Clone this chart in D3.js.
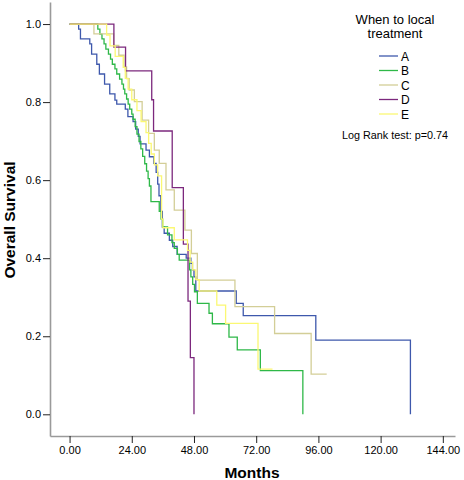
<!DOCTYPE html>
<html>
<head>
<meta charset="utf-8">
<script src="https://cdn.jsdelivr.net/npm/d3@7/dist/d3.min.js"></script>
<style>
  html, body { margin: 0; padding: 0; background: #fff; }
  svg { display: block; font-family: "Liberation Sans", Arial, sans-serif; }
</style>
</head>
<body>
<svg id="chart" width="464" height="480"></svg>
<script>
// ---- Data ----
const groups = ["A", "B", "C", "D", "E"];
const groupColors = ["#3E58AC", "#2EB848", "#D3CE97", "#7C287D", "#FBF873"];
const xTickValues = [0, 24, 48, 72, 96, 120, 144];
const yTickValues = [0, 0.2, 0.4, 0.6, 0.8, 1.0];
const legendTitle = ["When to local", "treatment"];
const testLabel = "Log Rank test: p=0.74";
const xTitle = "Months";
const yTitle = "Overall Survival";

// Kaplan-Meier step points: [month, survival]
const survA = [[0,1],[3.5,0.987],[4.2,0.962],[7.8,0.949],[8.5,0.923],[10.5,0.897],[11.5,0.872],
  [13.5,0.846],[15.5,0.821],[17.5,0.805],[18.2,0.795],[21.5,0.782],[22.5,0.763],[24.5,0.750],
  [25.5,0.731],[26.5,0.712],[27.2,0.693],[29.5,0.677],[30.8,0.660],[32.5,0.643],[33.4,0.620],
  [34.0,0.590],[34.5,0.560],[35.2,0.520],[35.8,0.480],[36.5,0.464],[38.5,0.446],[39.8,0.430],
  [41.5,0.410],[45.0,0.400],[46.8,0.387],[47.4,0.370],[48.0,0.352],[48.7,0.316],[64.3,0.284],
  [67.0,0.253],[95.0,0.190],[131.5,0]];
const survB = [[0,1],[10.9,0.987],[11.7,0.974],[12.5,0.962],[13.3,0.949],[14.0,0.936],[15.0,0.923],
  [15.8,0.910],[16.5,0.897],[17.5,0.885],[18.2,0.872],[19.3,0.859],[20.2,0.846],[20.8,0.833],
  [21.3,0.821],[22.0,0.808],[22.6,0.795],[23.2,0.782],[24.0,0.769],[24.5,0.756],[25.3,0.737],
  [26.0,0.718],[26.8,0.699],[27.5,0.680],[28.2,0.661],[29.0,0.642],[29.7,0.623],[30.3,0.604],
  [30.8,0.585],[31.4,0.545],[34.6,0.520],[35.3,0.500],[35.9,0.480],[37.8,0.460],[39.5,0.440],
  [40.4,0.425],[41.6,0.410],[42.3,0.395],[46.3,0.370],[46.8,0.352],[47.5,0.333],[48.2,0.314],
  [49.3,0.284],[53.8,0.259],[55.1,0.232],[61.5,0.198],[64.7,0.165],[73.6,0.112],[90.0,0]];
const survC = [[0,1],[9.4,0.975],[17.0,0.945],[19.0,0.920],[21.0,0.890],[22.0,0.860],[23.0,0.831],
  [25.0,0.801],[28.0,0.754],[30.5,0.720],[32.7,0.677],[34.6,0.643],[37.2,0.575],[40.4,0.523],
  [44.5,0.472],[47.0,0.412],[49.3,0.344],[63.8,0.276],[79.1,0.207],[93.2,0.103],[99.2,0.103]];
const survD = [[0,1],[17.1,0.941],[21.6,0.880],[31.7,0.806],[32.4,0.726],[39.6,0.581],[43.9,0.436],
  [45.7,0.290],[46.6,0.145],[48.0,0]];
const survE = [[0,1],[14.3,0.972],[15.6,0.944],[17.6,0.917],[20.7,0.889],[21.5,0.861],[22.6,0.833],
  [24.0,0.806],[26.0,0.778],[27.6,0.750],[29.5,0.722],[30.5,0.694],[31.5,0.667],[32.7,0.639],
  [34.0,0.611],[35.5,0.500],[36.0,0.478],[40.4,0.447],[45.5,0.420],[46.5,0.390],[47.5,0.370],
  [48.7,0.345],[50.0,0.316],[56.8,0.280],[60.2,0.233],[72.7,0.116],[78.3,0.116]];
const curves = [survA, survB, survC, survD, survE];

// ---- Chart ----
const svg = d3.select("#chart");
const x = d3.scaleLinear().domain([-7.55, 148.7]).range([50, 455]);
const y = d3.scaleLinear().domain([-0.0556, 1.0565]).range([436, 2]);

const xAxis = d3.axisBottom(x).tickValues(xTickValues).tickFormat(d3.format(".2f"))
  .tickSize(7).tickSizeOuter(0).tickPadding(3);
const yAxis = d3.axisLeft(y).tickValues(yTickValues).tickFormat(d3.format(".1f"))
  .tickSize(7).tickSizeOuter(0).tickPadding(2);

const gx = svg.append("g").attr("transform", "translate(0,436)").call(xAxis);
const gy = svg.append("g").attr("transform", "translate(50,0)").call(yAxis);
[gx, gy].forEach(g => {
  g.select(".domain").attr("stroke", "#9a9a9a").attr("stroke-width", 1.6);
  g.selectAll(".tick line").attr("stroke", "#222").attr("stroke-width", 1);
  g.selectAll(".tick text").attr("fill", "#000").attr("font-size", 11)
    .attr("font-family", "Liberation Sans, Arial, sans-serif");
});

svg.append("text").attr("x", 252).attr("y", 478).attr("text-anchor", "middle")
  .attr("font-size", 15.5).attr("font-weight", "bold").text(xTitle);
svg.append("text").attr("transform", "translate(15,220) rotate(-90)").attr("text-anchor", "middle")
  .attr("font-size", 15.5).attr("font-weight", "bold").text(yTitle);

const line = d3.line().x(d => x(d[0])).y(d => y(d[1])).curve(d3.curveStepAfter);
curves.forEach((c, i) => {
  svg.append("path").datum(c).attr("d", line).attr("fill", "none")
    .attr("stroke", groupColors[i]).attr("stroke-width", 1.3);
});

// Legend
legendTitle.forEach((t, i) => {
  svg.append("text").attr("x", 395).attr("y", 24 + i * 14).attr("text-anchor", "middle")
    .attr("font-size", 13).text(t);
});
groups.forEach((g, i) => {
  const yy = 56 + i * 14.5;
  svg.append("line").attr("x1", 379).attr("x2", 398).attr("y1", yy).attr("y2", yy)
    .attr("stroke", groupColors[i]).attr("stroke-width", 1.3);
  svg.append("text").attr("x", 401).attr("y", yy + 4.5).attr("font-size", 12).text(g);
});
svg.append("text").attr("x", 395).attr("y", 139).attr("text-anchor", "middle")
  .attr("font-size", 10.8).text(testLabel);
</script>
</body>
</html>
